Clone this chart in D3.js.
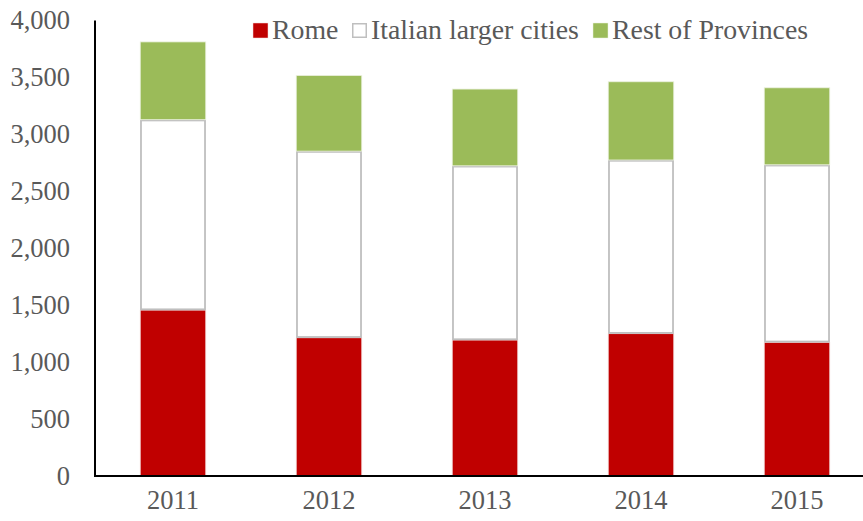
<!DOCTYPE html>
<html><head><meta charset="utf-8">
<script src="https://cdn.jsdelivr.net/npm/d3@7"></script>
<style>
body{margin:0;background:#fff;}
svg{display:block;}
</style></head>
<body>
<svg id="c" width="863" height="521"></svg>
<script>
const years = ["2011","2012","2013","2014","2015"];
const rome = [1457, 1214, 1194, 1250, 1174];
const italianCities = [1672, 1639, 1530, 1525, 1559];
const restProvinces = [683, 664, 674, 687, 676];
const seriesNames = ["Rome","Italian larger cities","Rest of Provinces"];
const yTicks = [0,500,1000,1500,2000,2500,3000,3500,4000];

const fills = ["#C00000","#FFFFFF","#9BBB59"];
const strokes = ["#F2DCDB","#BFBFBF","#EBF1DE"];

const svg = d3.select("#c");
const y = d3.scaleLinear().domain([0,4000]).range([476,20.5]);
const x = d3.scaleBand().domain(years).range([95,875]).paddingInner(0.58).paddingOuter(0.29);

const table = years.map((yr,i)=>({year:yr, s0:rome[i], s1:italianCities[i], s2:restProvinces[i]}));
const stacked = d3.stack().keys(["s0","s1","s2"])(table);

const font = "'Liberation Serif','Times New Roman',serif";

// bars
stacked.forEach((layer,k)=>{
  svg.append("g").selectAll("rect").data(layer).join("rect")
    .attr("x", d=>x(d.data.year) + (k===1?0.75:0))
    .attr("width", x.bandwidth() - (k===1?1.5:0))
    .attr("y", d=>y(d[1]) + (k===1?0.75:0))
    .attr("height", d=>y(d[0])-y(d[1]) - (k===1?1.5:0))
    .attr("fill", fills[k])
    .attr("stroke", strokes[k])
    .attr("stroke-width", k===1?1.8:0.8);
});

// y axis
const yAxis = d3.axisLeft(y).tickValues(yTicks).tickSize(0).tickPadding(25)
  .tickFormat(d3.format(","));
const gy = svg.append("g").attr("transform","translate(95,0)").call(yAxis);
gy.select(".domain").remove();
gy.selectAll("text").attr("font-family",font).attr("font-size",26.5).attr("fill","#595959");
svg.append("line").attr("x1",95).attr("x2",95).attr("y1",y(4000)).attr("y2",y(0)+1)
  .attr("stroke","#000").attr("stroke-width",2);

// x axis
const xAxis = d3.axisBottom(x).tickSize(0).tickPadding(14);
const gx = svg.append("g").attr("transform","translate(0,476)").call(xAxis);
gx.select(".domain").remove();
gx.selectAll("text").attr("font-family",font).attr("font-size",26.5).attr("fill","#595959");
svg.append("line").attr("x1",94).attr("x2",863).attr("y1",476).attr("y2",476)
  .attr("stroke","#000").attr("stroke-width",2);

// legend
const legX = [253, 352, 593];
const lg = svg.append("g");
seriesNames.forEach((n,i)=>{
  lg.append("rect").attr("x",legX[i]+ (i===1?0.75:0)).attr("y",23+(i===1?0.75:0))
    .attr("width",15-(i===1?1.5:0)).attr("height",15-(i===1?1.5:0))
    .attr("fill",fills[i]).attr("stroke",strokes[i]).attr("stroke-width",i===1?1.5:0.5);
  lg.append("text").attr("x",legX[i]+19).attr("y",39).text(n)
    .attr("font-family",font).attr("font-size",27.8).attr("fill","#595959");
});
</script>
</body></html>
